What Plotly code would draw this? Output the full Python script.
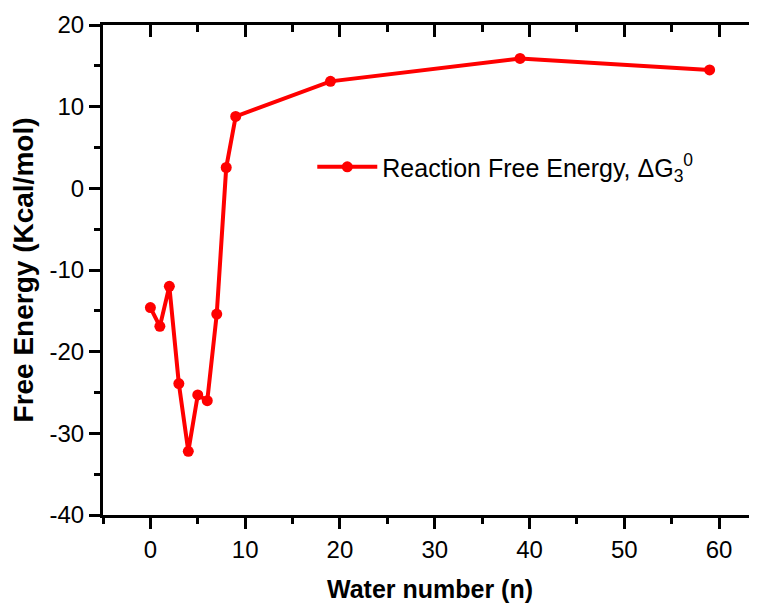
import plotly.graph_objects as go

water_n = [0, 1, 2, 3, 4, 5, 6, 7, 8, 9, 19, 39, 59]
free_energy = [-14.6, -16.9, -12.0, -23.9, -32.2, -25.3, -26.0, -15.4, 2.55, 8.8, 13.1, 15.9, 14.5]
series_name = "Reaction Free Energy, ΔG<sub>3</sub><sup>0</sup>"
x_title = "Water number (n)"
y_title = "Free Energy (Kcal/mol)"
y_tickvals = [-40, -30, -20, -10, 0, 10, 20]
y_ticktext = ["-40", "-30", "-20", "-10", "0", "10", "20"]
x_tickvals = [0, 10, 20, 30, 40, 50, 60]
x_ticktext = ["0", "10", "20", "30", "40", "50", "60"]

FONT = "Liberation Sans, Arial, sans-serif"
RED = "#ff0000"

fig = go.Figure()
fig.add_trace(go.Scatter(
    x=water_n, y=free_energy, mode="lines+markers", name=series_name,
    line=dict(color=RED, width=4),
    marker=dict(color=RED, size=11, symbol="circle"),
))
# invisible trace to activate the mirrored (top/right) axes
fig.add_trace(go.Scatter(x=[water_n[0]], y=[free_energy[0]], xaxis="x2", yaxis="y2",
                         mode="markers", marker=dict(opacity=0), showlegend=False,
                         hoverinfo="skip"))

xr = [-5, 64.0]
yr = [-40, 20]

fig.update_layout(
    width=749, height=595,
    margin=dict(l=95, r=0, t=17, b=88),
    paper_bgcolor="white", plot_bgcolor="white",
    font=dict(family=FONT, color="black", size=24),
    showlegend=True,
    legend=dict(x=0.32, y=0.71, xanchor="left", yanchor="middle",
                bgcolor="rgba(0,0,0,0)", font=dict(size=25, family=FONT),
                itemwidth=60),
    xaxis=dict(range=xr, showgrid=False, zeroline=False, showline=True,
               linecolor="black", linewidth=3, ticks="outside", ticklen=11,
               tickwidth=3, tickcolor="black",
               tickmode="array", tickvals=x_tickvals, ticktext=x_ticktext,
               minor=dict(ticks="outside", ticklen=6, tickwidth=3, dtick=5, tick0=0,
                          tickcolor="black", showgrid=False),
               tickfont=dict(size=24, family=FONT), automargin=False,
               title=dict(text=x_title, font=dict(size=25, family=FONT, weight="bold"),
                          standoff=21)),
    yaxis=dict(range=yr, showgrid=False, zeroline=False, showline=True,
               linecolor="black", linewidth=3, ticks="outside", ticklen=11,
               tickwidth=3, tickcolor="black",
               tickmode="array", tickvals=y_tickvals, ticktext=y_ticktext,
               minor=dict(ticks="outside", ticklen=6, tickwidth=3, dtick=5, tick0=0,
                          tickcolor="black", showgrid=False),
               tickfont=dict(size=24, family=FONT), automargin=False,
               title=dict(text=y_title, font=dict(size=28, family=FONT, weight="bold"),
                          standoff=13)),
    xaxis2=dict(range=xr, overlaying="x", side="top", anchor="y", showgrid=False,
                zeroline=False, showline=True, linecolor="black", linewidth=3,
                ticks="inside", ticklen=12, tickwidth=3, tickcolor="black",
                dtick=10, tick0=0, showticklabels=False,
                minor=dict(ticks="inside", ticklen=7, tickwidth=3, dtick=5, tick0=0,
                           tickcolor="black", showgrid=False)),
    yaxis2=dict(range=yr, overlaying="y", side="right", anchor="x", showgrid=False,
                zeroline=False, showline=False, ticks="inside", ticklen=4,
                tickwidth=3, tickcolor="black", dtick=10, tick0=0,
                showticklabels=False),
)

fig.write_html("out.html")
